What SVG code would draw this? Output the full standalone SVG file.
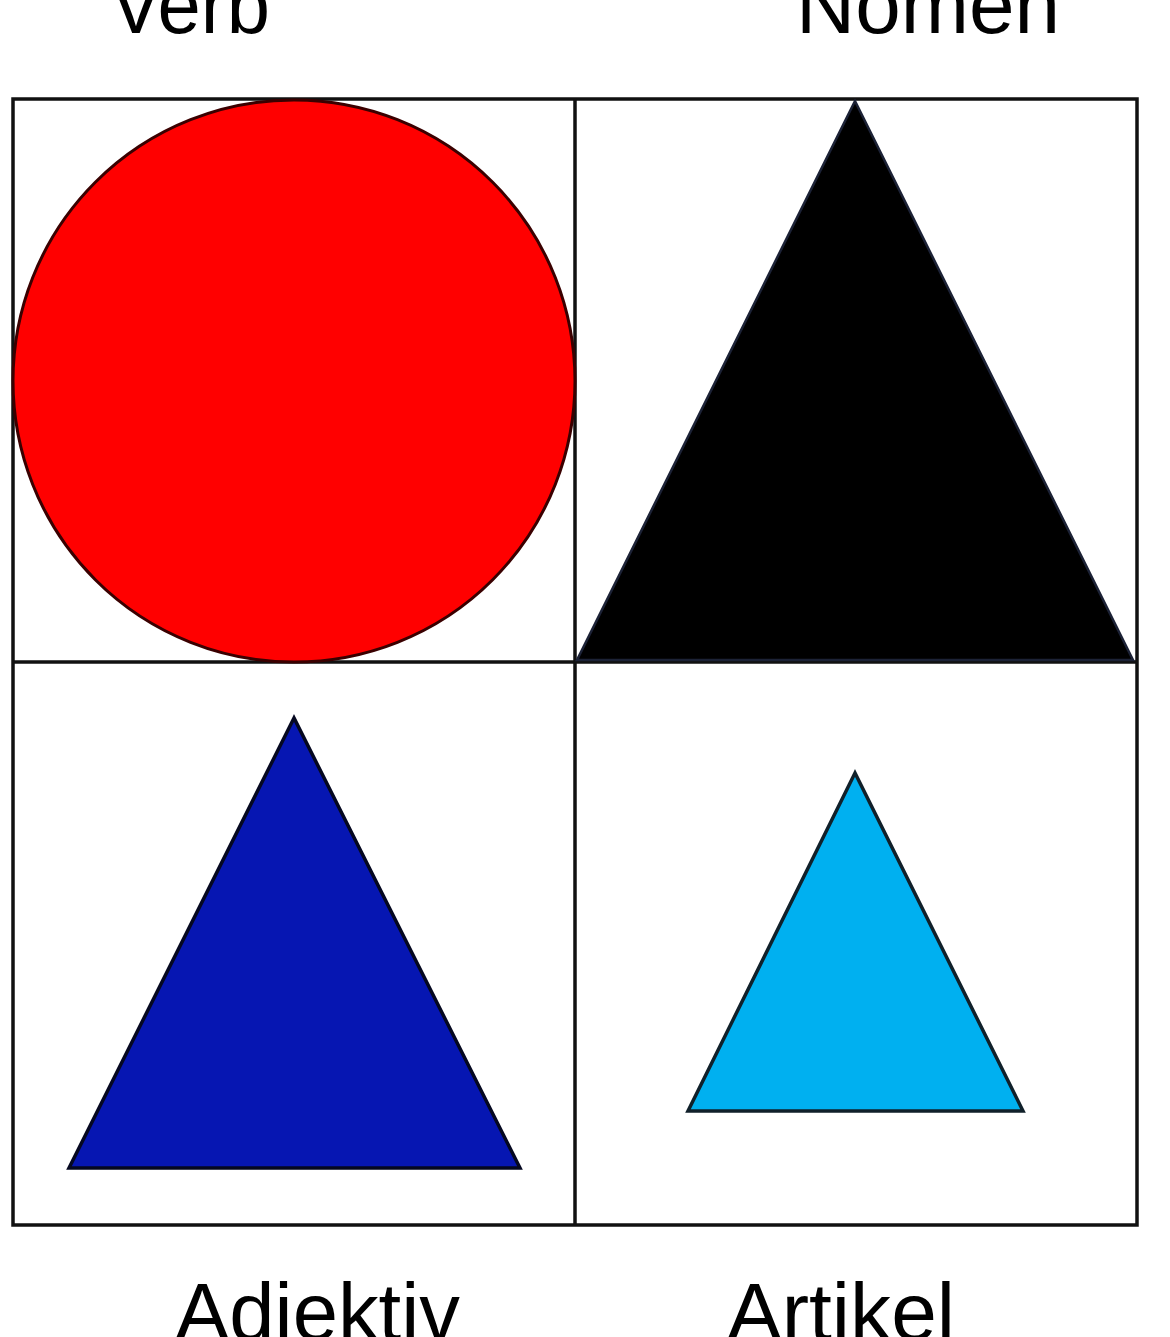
<svg xmlns="http://www.w3.org/2000/svg" width="1170" height="1337" viewBox="0 0 1170 1337">
<style>
.lbl{font-family:"Liberation Sans",Arial,sans-serif;font-size:81px;fill:#000;}
.grid{fill:none;stroke:#111111;stroke-width:3.5;}
</style>
<rect x="0" y="0" width="1170" height="1337" fill="#ffffff"/>
<g id="grid">
<rect class="grid" x="13" y="99" width="1124" height="1126"/>
<line class="grid" x1="575" y1="99" x2="575" y2="1225"/>
<line class="grid" x1="13" y1="662" x2="1137" y2="662"/>
</g>
<g id="verb">
<circle cx="294" cy="381" r="281" fill="#ff0000" stroke="#3a0000" stroke-width="3"/>
<text class="lbl" x="110" y="33" textLength="160" lengthAdjust="spacingAndGlyphs">Verb</text>
</g>
<g id="nomen">
<polygon points="855,101 577,660 1133,660" fill="#000000" stroke="#1c2236" stroke-width="2.5"/>
<text class="lbl" x="796" y="33" textLength="264" lengthAdjust="spacingAndGlyphs">Nomen</text>
</g>
<g id="adjektiv">
<polygon points="294,718 69,1168 520,1168" fill="#0616b2" stroke="#050820" stroke-width="3.5"/>
<text class="lbl" x="175" y="1340" textLength="285" lengthAdjust="spacingAndGlyphs">Adjektiv</text>
</g>
<g id="artikel">
<polygon points="855,773 688,1111 1023,1111" fill="#00b0f0" stroke="#10202a" stroke-width="3.5"/>
<text class="lbl" x="727" y="1340" textLength="228" lengthAdjust="spacingAndGlyphs">Artikel</text>
</g>
</svg>
